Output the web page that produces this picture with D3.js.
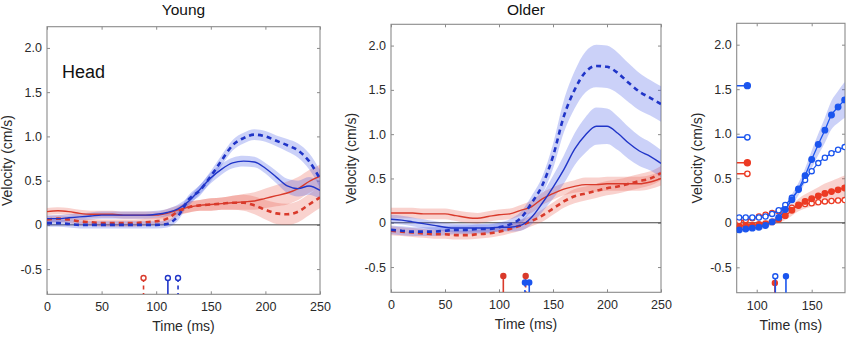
<!DOCTYPE html>
<html><head><meta charset="utf-8">
<script src="https://cdn.jsdelivr.net/npm/d3@7/dist/d3.min.js"></script>
<style>body{margin:0;background:#fff;} svg{display:block;font-family:"Liberation Sans",Arial,Helvetica,sans-serif;}</style>
</head><body><svg id="chart" width="850" height="337"></svg>
<script>
// ---------------- DATA ----------------
const times = [0,10,20,30,40,50,60,70,80,90,100,110,120,130,140,150,160,170,180,190,200,210,220,230,240,250];

// Young
const youngBlueSolid    = [0.07,0.07,0.08,0.09,0.10,0.11,0.11,0.11,0.11,0.11,0.12,0.14,0.18,0.27,0.40,0.53,0.63,0.70,0.72,0.71,0.64,0.54,0.44,0.41,0.44,0.39];
const youngBlueSolidErr = [0.04,0.04,0.04,0.04,0.04,0.04,0.04,0.04,0.04,0.04,0.04,0.04,0.05,0.05,0.05,0.06,0.06,0.06,0.06,0.06,0.06,0.07,0.08,0.09,0.10,0.10];
const youngBlueDashed    = [0.02,0.02,0.01,0.00,0.00,0.00,0.00,0.00,0.00,0.00,0.00,0.01,0.10,0.29,0.39,0.55,0.73,0.90,0.98,1.02,1.00,0.95,0.90,0.84,0.72,0.52];
const youngBlueDashedErr = [0.04,0.04,0.04,0.04,0.04,0.04,0.04,0.04,0.04,0.04,0.04,0.04,0.05,0.05,0.06,0.06,0.06,0.06,0.06,0.06,0.06,0.06,0.07,0.08,0.09,0.10];
const youngRedSolid    = [0.15,0.16,0.15,0.13,0.12,0.12,0.12,0.11,0.11,0.11,0.11,0.13,0.17,0.20,0.22,0.23,0.24,0.25,0.26,0.27,0.30,0.33,0.36,0.41,0.49,0.55];
const youngRedSolidErr = [0.04,0.04,0.04,0.04,0.04,0.04,0.04,0.04,0.04,0.04,0.04,0.05,0.05,0.06,0.06,0.07,0.07,0.08,0.09,0.10,0.11,0.12,0.13,0.13,0.13,0.13];
const youngRedDashed    = [0.06,0.07,0.06,0.04,0.03,0.02,0.02,0.02,0.02,0.03,0.04,0.07,0.15,0.20,0.22,0.23,0.24,0.25,0.25,0.22,0.17,0.13,0.12,0.15,0.23,0.31];
const youngRedDashedErr = [0.04,0.04,0.04,0.04,0.04,0.04,0.04,0.04,0.04,0.04,0.04,0.05,0.05,0.06,0.06,0.07,0.07,0.08,0.09,0.10,0.11,0.12,0.12,0.12,0.12,0.12];

// Older
const olderBlueSolid    = [0.04,0.03,0.01,-0.01,-0.03,-0.05,-0.06,-0.06,-0.06,-0.06,-0.05,-0.05,-0.03,0.06,0.22,0.40,0.60,0.83,0.99,1.09,1.09,1.01,0.90,0.81,0.75,0.67];
const olderBlueSolidErr = [0.05,0.05,0.05,0.05,0.05,0.05,0.05,0.05,0.05,0.05,0.05,0.05,0.06,0.08,0.10,0.13,0.16,0.18,0.20,0.21,0.20,0.19,0.18,0.17,0.16,0.15];
const olderBlueDashed    = [-0.08,-0.09,-0.10,-0.10,-0.10,-0.09,-0.08,-0.08,-0.07,-0.07,-0.05,-0.02,0.05,0.22,0.42,0.75,1.20,1.50,1.70,1.77,1.76,1.69,1.58,1.48,1.41,1.34];
const olderBlueDashedErr = [0.05,0.05,0.05,0.05,0.05,0.05,0.05,0.05,0.05,0.05,0.05,0.06,0.07,0.08,0.10,0.14,0.18,0.21,0.23,0.24,0.24,0.23,0.22,0.21,0.20,0.20];
const olderRedSolid    = [0.11,0.11,0.11,0.10,0.10,0.10,0.08,0.06,0.05,0.07,0.09,0.10,0.14,0.18,0.27,0.33,0.38,0.41,0.43,0.43,0.44,0.44,0.44,0.44,0.46,0.50];
const olderRedSolidErr = [0.06,0.06,0.06,0.06,0.06,0.06,0.06,0.06,0.06,0.06,0.06,0.06,0.06,0.07,0.07,0.07,0.07,0.07,0.08,0.08,0.08,0.08,0.08,0.08,0.08,0.08];
const olderRedDashed    = [-0.09,-0.10,-0.11,-0.12,-0.13,-0.13,-0.14,-0.14,-0.13,-0.12,-0.10,-0.07,-0.03,0.02,0.08,0.16,0.24,0.30,0.33,0.36,0.39,0.41,0.44,0.47,0.50,0.56];
const olderRedDashedErr = [0.05,0.05,0.05,0.05,0.05,0.05,0.05,0.05,0.05,0.05,0.05,0.05,0.06,0.06,0.07,0.07,0.07,0.08,0.08,0.08,0.08,0.08,0.08,0.08,0.08,0.08];

// Right panel (sampled)
const rightTimes = [84,90,96,102,108,114,120,126,132,138,144,150,156,162,168,174,180];
const rightBlueFilled    = [-0.08,-0.07,-0.06,-0.05,-0.03,0.01,0.06,0.15,0.26,0.38,0.53,0.71,0.88,1.04,1.21,1.30,1.38];
const rightBlueFilledErr = [0.03,0.03,0.03,0.03,0.03,0.03,0.04,0.05,0.06,0.07,0.08,0.10,0.12,0.14,0.16,0.18,0.20];
const rightBlueOpen      = [0.06,0.06,0.06,0.06,0.07,0.10,0.14,0.20,0.28,0.37,0.48,0.58,0.67,0.73,0.78,0.82,0.85];
const rightRedFilled     = [-0.04,-0.03,-0.03,-0.02,-0.01,0.01,0.04,0.08,0.14,0.20,0.24,0.27,0.30,0.33,0.35,0.37,0.39];
const rightRedFilledErr  = [0.03,0.03,0.03,0.03,0.03,0.03,0.04,0.05,0.06,0.07,0.08,0.09,0.10,0.11,0.12,0.13,0.14];
const rightRedOpen       = [0.02,0.03,0.05,0.07,0.09,0.11,0.13,0.15,0.17,0.19,0.21,0.22,0.23,0.24,0.245,0.25,0.255];
const rightPeakTime   = 91.5;
const rightPeakValues = [1.54, 0.96, 0.675, 0.55];
const rightPeakSeries = ["blueFilled","blueOpen","redFilled","redOpen"];

// Onset markers
const youngOnsetTimes  = [88.4, 110.7, 120.0];
const youngOnsetLevels = [-0.6, -0.6, -0.6];
const youngOnsetSeries = ["redDashed","blueSolid","blueDashed"];
const olderOnsetTimes  = [104.0, 124.7, 124.0, 128.0];
const olderOnsetLevels = [-0.6, -0.6, -0.675, -0.675];
const olderOnsetSeries = ["redSolid","redDashed","blueDashed","blueSolid"];
const rightOnsetTimes  = [116.5, 116.9, 126.6];
const rightOnsetLevels = [-0.675, -0.6, -0.6];
const rightOnsetSeries = ["redFilled","blueOpen","blueFilled"];

const timeTicks = [0,50,100,150,200,250];
const rightTimeTicks = [100,150];
const velTicks = [-0.5,0,0.5,1.0,1.5,2.0];
const velDomain = [-0.785, 2.24];

// ---------------- STYLE / LAYOUT ----------------
const C = {
  blue:"#2035c8", red:"#d93a2b",
  blueBand:"rgba(70,90,230,0.28)", redBand:"rgba(235,95,80,0.28)",
  rblue:"#1b55ee", rred:"#ec3b24",
  frame:"#8a8a8a", text:"#2a2a2a"
};
const L = {
  young:{x0:47, x1:320, y0:26.7, y1:294.3, xd:[0,250]},
  older:{x0:391, x1:661, y0:24.3, y1:292.3, xd:[0,250]},
  right:{x0:736.7, x1:845, y0:23.3, y1:292.7, xd:[81.8,180.3]}
};

const svg = d3.select("#chart");
const fmt = d => d===0 ? "0" : d.toFixed(1);

function makePanel(key, xTicks, title){
  const p = L[key];
  const x = d3.scaleLinear().domain(p.xd).range([p.x0,p.x1]);
  const y = d3.scaleLinear().domain(velDomain).range([p.y1,p.y0]);
  const g = svg.append("g");
  const clipId = "clip-"+key;
  svg.append("clipPath").attr("id",clipId).append("rect")
     .attr("x",p.x0).attr("y",p.y0).attr("width",p.x1-p.x0).attr("height",p.y1-p.y0);
  const axB = g.append("g").attr("transform",`translate(0,${p.y1})`)
     .call(d3.axisBottom(x).tickValues(xTicks).tickSize(-3).tickPadding(8).tickFormat(d3.format("d")));
  const axT = g.append("g").attr("transform",`translate(0,${p.y0})`)
     .call(d3.axisTop(x).tickValues(xTicks).tickSize(-3).tickFormat(""));
  const axL = g.append("g").attr("transform",`translate(${p.x0},0)`)
     .call(d3.axisLeft(y).tickValues(velTicks).tickSize(-3).tickPadding(5).tickFormat(fmt));
  const axR = g.append("g").attr("transform",`translate(${p.x1},0)`)
     .call(d3.axisRight(y).tickValues(velTicks).tickSize(-3).tickFormat(""));
  [axB,axT,axL,axR].forEach(a=>{
    a.select(".domain").remove();
    a.selectAll("line").attr("stroke",C.frame);
    a.selectAll("text").attr("fill",C.text).style("font-size","12.5px");
  });
  g.append("rect").attr("x",p.x0).attr("y",p.y0).attr("width",p.x1-p.x0).attr("height",p.y1-p.y0)
   .attr("fill","none").attr("stroke",C.frame).attr("stroke-width",1.1);
  g.append("text").attr("x",(p.x0+p.x1)/2).attr("y",p.y1+37).attr("text-anchor","middle")
   .attr("fill",C.text).style("font-size","14px").text("Time (ms)");
  g.append("text").attr("transform",`translate(${p.x0-39.5},${(p.y0+p.y1)/2}) rotate(-90)`)
   .attr("dy","0.35em").attr("text-anchor","middle").attr("fill",C.text).style("font-size","14px").text("Velocity (cm/s)");
  if(title){
    g.append("text").attr("x",(p.x0+p.x1)/2).attr("y",14.5).attr("text-anchor","middle")
     .attr("fill","#111").style("font-size","15.5px").text(title);
  }
  const plot = svg.append("g").attr("clip-path",`url(#${clipId})`);
  plot.append("line").attr("x1",p.x0).attr("x2",p.x1).attr("y1",y(0)).attr("y2",y(0))
      .attr("stroke","#444").attr("stroke-width",1);
  return {x,y,plot,p};
}

function drawCurves(P, tArr, series){
  const area = d3.area().x((d,i)=>P.x(tArr[i])).y0(d=>P.y(d[0]-d[1])).y1(d=>P.y(d[0]+d[1])).curve(d3.curveMonotoneX);
  const line = d3.line().x((d,i)=>P.x(tArr[i])).y(d=>P.y(d)).curve(d3.curveMonotoneX);
  series.forEach(s=>{
    P.plot.append("path").datum(s.v.map((v,i)=>[v,s.e[i]])).attr("d",area).attr("fill",s.band).attr("stroke","none");
  });
  series.forEach(s=>{
    P.plot.append("path").datum(s.v).attr("d",line).attr("fill","none").attr("stroke",s.color)
      .attr("stroke-width",s.dashed?2.6:1.4).attr("stroke-dasharray",s.dashed?"5,4":null);
  });
}

function drawOnsets(P, tArr, lvArr, serArr, styles){
  tArr.forEach((t,i)=>{
    const st = styles[serArr[i]];
    P.plot.append("line").attr("x1",P.x(t)).attr("x2",P.x(t)).attr("y1",P.y(lvArr[i])).attr("y2",P.p.y1)
      .attr("stroke",st.color).attr("stroke-width",1.6).attr("stroke-dasharray",st.dashStem?"4,3.5":null);
    P.plot.append("circle").attr("cx",P.x(t)).attr("cy",P.y(lvArr[i])).attr("r",2.5)
      .attr("fill",st.filled?st.color:"#fff").attr("stroke",st.color).attr("stroke-width",1.4);
  });
}

// ---------- Young ----------
const Y = makePanel("young", timeTicks, "Young");
drawCurves(Y, times, [
  {v:youngRedSolid, e:youngRedSolidErr, color:C.red, band:C.redBand, dashed:false},
  {v:youngRedDashed, e:youngRedDashedErr, color:C.red, band:C.redBand, dashed:true},
  {v:youngBlueSolid, e:youngBlueSolidErr, color:C.blue, band:C.blueBand, dashed:false},
  {v:youngBlueDashed, e:youngBlueDashedErr, color:C.blue, band:C.blueBand, dashed:true}
]);
drawOnsets(Y, youngOnsetTimes, youngOnsetLevels, youngOnsetSeries, {
  redDashed:{color:C.red, filled:false, dashStem:true},
  blueSolid:{color:C.blue, filled:false, dashStem:false},
  blueDashed:{color:C.blue, filled:false, dashStem:true}
});
svg.append("text").attr("x",62).attr("y",78.3).attr("fill","#111").style("font-size","18px").text("Head");

// ---------- Older ----------
const O = makePanel("older", timeTicks, "Older");
drawCurves(O, times, [
  {v:olderRedSolid, e:olderRedSolidErr, color:C.red, band:C.redBand, dashed:false},
  {v:olderRedDashed, e:olderRedDashedErr, color:C.red, band:C.redBand, dashed:true},
  {v:olderBlueSolid, e:olderBlueSolidErr, color:C.blue, band:C.blueBand, dashed:false},
  {v:olderBlueDashed, e:olderBlueDashedErr, color:C.blue, band:C.blueBand, dashed:true}
]);
drawOnsets(O, olderOnsetTimes, olderOnsetLevels, olderOnsetSeries, {
  redSolid:{color:C.red, filled:true, dashStem:false},
  redDashed:{color:C.red, filled:true, dashStem:true},
  blueDashed:{color:C.rblue, filled:true, dashStem:true},
  blueSolid:{color:C.rblue, filled:true, dashStem:false}
});

// ---------- Right ----------
const R = makePanel("right", rightTimeTicks, null);
(function(){
  const area = d3.area().x((d,i)=>R.x(rightTimes[i])).y0(d=>R.y(d[0]-d[1])).y1(d=>R.y(d[0]+d[1])).curve(d3.curveMonotoneX);
  const line = d3.line().x((d,i)=>R.x(rightTimes[i])).y(d=>R.y(d)).curve(d3.curveMonotoneX);
  R.plot.append("path").datum(rightBlueFilled.map((v,i)=>[v,rightBlueFilledErr[i]])).attr("d",area).attr("fill",C.blueBand);
  R.plot.append("path").datum(rightRedFilled.map((v,i)=>[v,rightRedFilledErr[i]])).attr("d",area).attr("fill",C.redBand);
  const sets = [
    {v:rightRedOpen, color:C.rred, filled:false},
    {v:rightRedFilled, color:C.rred, filled:true},
    {v:rightBlueOpen, color:C.rblue, filled:false},
    {v:rightBlueFilled, color:C.rblue, filled:true}
  ];
  sets.forEach(s=>{
    R.plot.append("path").datum(s.v).attr("d",line).attr("fill","none").attr("stroke",s.color).attr("stroke-width",1.3);
    R.plot.selectAll(null).data(s.v).enter().append("circle")
      .attr("cx",(d,i)=>R.x(rightTimes[i])).attr("cy",d=>R.y(d)).attr("r",s.filled?2.8:2.6)
      .attr("fill",s.filled?s.color:"#fff").attr("stroke",s.color).attr("stroke-width",1.3);
  });
  const peakStyle = {
    blueFilled:{color:C.rblue, filled:true}, blueOpen:{color:C.rblue, filled:false},
    redFilled:{color:C.rred, filled:true}, redOpen:{color:C.rred, filled:false}
  };
  rightPeakValues.forEach((v,i)=>{
    const st = peakStyle[rightPeakSeries[i]];
    R.plot.append("line").attr("x1",R.x(L.right.xd[0])).attr("x2",R.x(rightPeakTime))
      .attr("y1",R.y(v)).attr("y2",R.y(v)).attr("stroke",st.color).attr("stroke-width",1.5);
    R.plot.append("circle").attr("cx",R.x(rightPeakTime)).attr("cy",R.y(v)).attr("r",st.filled?3:2.7)
      .attr("fill",st.filled?st.color:"#fff").attr("stroke",st.color).attr("stroke-width",1.4);
  });
})();
drawOnsets(R, rightOnsetTimes, rightOnsetLevels, rightOnsetSeries, {
  redFilled:{color:C.rred, filled:true, dashStem:false},
  blueOpen:{color:C.rblue, filled:false, dashStem:false},
  blueFilled:{color:C.rblue, filled:true, dashStem:false}
});
</script></body></html>
